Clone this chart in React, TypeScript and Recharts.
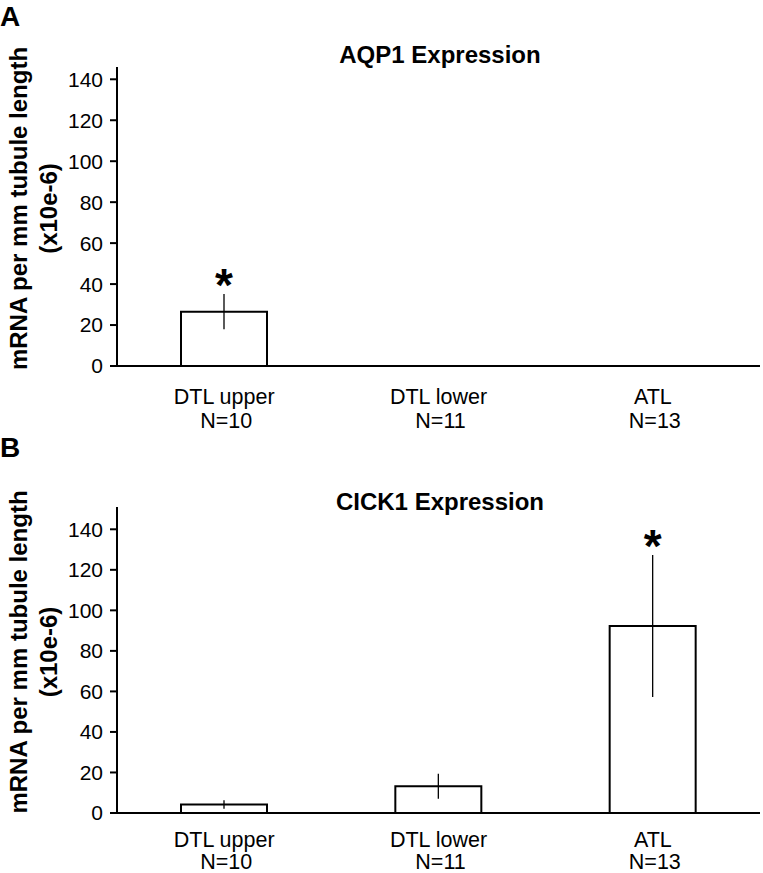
import React from 'react';
import { BarChart, Bar, XAxis, YAxis, ErrorBar, LabelList } from 'recharts';

const categories = ['DTL upper', 'DTL lower', 'ATL'];
const sampleSizes = ['N=10', 'N=11', 'N=13'];
const yTicks = [0, 20, 40, 60, 80, 100, 120, 140];

// panel A - AQP1
const aqp1Mean = [26.5, null, null];
const aqp1Err = [8.6, null, null];
const aqp1Sig = [true, false, false];

// panel B - CICK1
const cick1Mean = [4.2, 13.2, 92.3];
const cick1Err = [2.1, 6.2, 35];
const cick1Sig = [false, false, true];

const FONT = '"Liberation Sans", Arial, sans-serif';
const W = 763;

const buildRows = (means: (number | null)[], errs: (number | null)[], sig: boolean[]) =>
  categories.map((c, i) => ({ name: c, n: sampleSizes[i], mean: means[i], err: errs[i], sig: sig[i] }));

const makeCategoryTick = (dy1: number, dy2: number) => (props: any) => {
  const { x, y, payload, index } = props;
  return (
    <text x={x} y={y} textAnchor="middle" fontFamily={FONT} fontSize={21.5} fill="#000">
      <tspan x={x} dy={dy1}>{payload.value}</tspan>
      <tspan x={x + 2} dy={dy2}>{sampleSizes[index]}</tspan>
    </text>
  );
};

const YLabel = (props: any) => {
  const { viewBox } = props;
  const cy = viewBox.y + viewBox.height / 2 - 8;
  return (
    <g fontFamily={FONT} fontSize={24} fontWeight="bold" fill="#000">
      <text x={18} y={cy} transform={`rotate(-90, 18, ${cy})`} textAnchor="middle" dominantBaseline="central">
        mRNA per mm tubule length
      </text>
      <text x={48} y={cy} transform={`rotate(-90, 48, ${cy})`} textAnchor="middle" dominantBaseline="central">
        (x10e-6)
      </text>
    </g>
  );
};

type PanelProps = {
  letter: string;
  title: string;
  rows: any[];
  top: number;
  height: number;
  plotTop: number;
  plotBottom: number;
  yMax: number;
  letterY: number;
  titleY: number;
  labelDy: [number, number];
};

function Panel({ letter, title, rows, top, height, plotTop, plotBottom, yMax, letterY, titleY, labelDy }: PanelProps) {
  const star = (p: any) => {
    const row = rows[p.index];
    if (!row || !row.sig || !row.mean) return null;
    const k = p.height / row.mean;
    const errTop = p.y - row.err * k;
    return (
      <text x={p.x + p.width / 2} y={errTop + 7} textAnchor="middle" fontFamily={FONT} fontSize={46} fontWeight="bold" fill="#000">
        *
      </text>
    );
  };
  const Tick = makeCategoryTick(labelDy[0], labelDy[1]);
  return (
    <div style={{ position: 'absolute', left: 0, top, width: W, height }}>
      <BarChart
        width={W}
        height={height}
        data={rows}
        margin={{ top: plotTop, right: 3, left: 0, bottom: 0 }}
      >
        <XAxis
          xAxisId="edges"
          type="number"
          domain={[0, 3]}
          ticks={[0, 1, 2]}
          allowDataOverflow
          height={0}
          axisLine={false}
          tick={() => <g />}
          tickSize={7}
          tickLine={{ stroke: '#000', strokeWidth: 2 }}
        />
        <XAxis
          dataKey="name"
          height={height - plotBottom}
          axisLine={{ stroke: '#000', strokeWidth: 2 }}
          tickLine={false}
          tick={<Tick />}
          interval={0}
        />
        <YAxis
          width={117}
          domain={[0, yMax]}
          ticks={yTicks}
          allowDataOverflow
          axisLine={{ stroke: '#000', strokeWidth: 2 }}
          tickLine={{ stroke: '#000', strokeWidth: 2 }}
          tickSize={7}
          tickMargin={7}
          tick={{ fontFamily: FONT, fontSize: 21, fill: '#000' }}
          label={<YLabel />}
        />
        <Bar dataKey="mean" fill="#fff" stroke="#000" strokeWidth={2} barSize={86} isAnimationActive={false}>
          <ErrorBar dataKey="err" width={0} stroke="#000" strokeWidth={1.3} direction="y" />
          <LabelList dataKey="sig" content={star} />
        </Bar>
      </BarChart>
      <svg width={W} height={height} style={{ position: 'absolute', left: 0, top: 0, pointerEvents: 'none' }}>
        <text x={0} y={letterY} fontFamily={FONT} fontSize={28} fontWeight="bold" fill="#000">
          {letter}
        </text>
        <text x={440} y={titleY} textAnchor="middle" fontFamily={FONT} fontSize={24} fontWeight="bold" fill="#000">
          {title}
        </text>
      </svg>
    </div>
  );
}

export default function App() {
  return (
    <div style={{ position: 'absolute', left: 0, top: 0, width: W, height: 873, background: '#fff' }}>
      <Panel
        letter="A"
        title="AQP1 Expression"
        rows={buildRows(aqp1Mean, aqp1Err, aqp1Sig)}
        top={0}
        height={432}
        plotTop={67}
        plotBottom={366}
        yMax={146}
        letterY={26}
        titleY={63}
        labelDy={[30, 24]}
      />
      <Panel
        letter="B"
        title="CICK1 Expression"
        rows={buildRows(cick1Mean, cick1Err, cick1Sig)}
        top={420}
        height={453}
        plotTop={87}
        plotBottom={393}
        yMax={151}
        letterY={37}
        titleY={90}
        labelDy={[26, 22]}
      />
    </div>
  );
}
